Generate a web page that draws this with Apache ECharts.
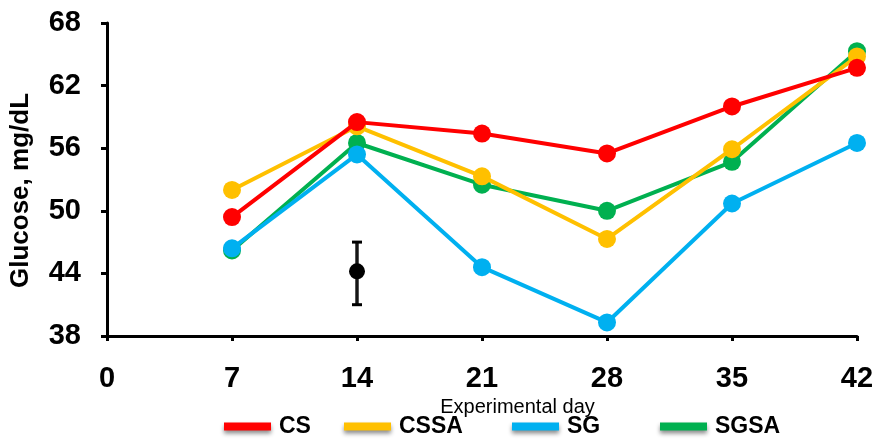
<!DOCTYPE html>
<html>
<head>
<meta charset="utf-8">
<script src="https://cdn.jsdelivr.net/npm/echarts@6/dist/echarts.min.js"></script>
<style>
  html, body { margin: 0; padding: 0; background: #fff; }
  #chart { width: 877px; height: 443px; }
</style>
</head>
<body>
<div id="chart"></div>
<script>
// Experimental days (x axis)
const days = [7, 14, 21, 28, 35, 42];
const xTicks = [0, 7, 14, 21, 28, 35, 42];
const yTicks = [38, 44, 50, 56, 62, 68];

// Blood glucose, mg/dL, per treatment group
const seriesNames = ['CS', 'CSSA', 'SG', 'SGSA'];
const csValues   = [49.4, 58.5, 57.4, 55.5, 60.0, 63.7];
const cssaValues = [52.0, 58.1, 53.3, 47.3, 55.9, 64.8];
const sgValues   = [46.4, 55.4, 44.6, 39.3, 50.7, 56.5];
const sgsaValues = [46.2, 56.5, 52.5, 50.0, 54.7, 65.3];
const seriesColors = ['#FF0000', '#FFC000', '#00B0F0', '#00B050'];

// Pooled SEM shown as a single error bar at day 14
const semDay = 14;
const semMean = 44.2;
const semLow = 41.0;
const semHigh = 47.0;

const allValues = [csValues, cssaValues, sgValues, sgsaValues];
const drawOrder = [5, 4, 3, 2];

const chart = echarts.init(document.getElementById('chart'), null, { renderer: 'canvas' });

const lineSeries = seriesNames.map((name, i) => ({
  name: name,
  type: 'line',
  data: days.map((d, j) => [d, allValues[i][j]]),
  symbol: 'circle',
  symbolSize: 18,
  z: drawOrder[i],
  lineStyle: { color: seriesColors[i], width: 4 },
  itemStyle: { color: seriesColors[i] },
  emphasis: { disabled: true },
  animation: false
}));

const errorSeries = {
  name: 'SEM',
  type: 'custom',
  z: 6,
  animation: false,
  data: [[semDay, semMean, semLow, semHigh]],
  renderItem: function (params, api) {
    const x = api.value(0);
    const c = api.coord([x, api.value(1)]);
    const lo = api.coord([x, api.value(2)]);
    const hi = api.coord([x, api.value(3)]);
    const cap = 5;
    return {
      type: 'group',
      children: [
        { type: 'line', shape: { x1: c[0], y1: lo[1], x2: c[0], y2: hi[1] },
          style: { stroke: '#555', lineWidth: 4 } },
        { type: 'line', shape: { x1: c[0], y1: lo[1], x2: c[0], y2: hi[1] },
          style: { stroke: '#000', lineWidth: 1.5 } },
        { type: 'line', shape: { x1: c[0] - cap, y1: hi[1], x2: c[0] + cap, y2: hi[1] },
          style: { stroke: '#000', lineWidth: 3 } },
        { type: 'line', shape: { x1: c[0] - cap, y1: lo[1], x2: c[0] + cap, y2: lo[1] },
          style: { stroke: '#000', lineWidth: 3 } },
        { type: 'circle', shape: { cx: c[0], cy: c[1], r: 8 },
          style: { fill: '#000' } }
      ]
    };
  }
};

const legendLefts = [219, 339, 507, 655];
const legends = seriesNames.map((name, i) => ({
  data: [name],
  left: legendLefts[i],
  top: 410,
  icon: 'rect',
  itemWidth: 47,
  itemHeight: 8,
  itemGap: 0,
  selectedMode: false,
  itemStyle: { shadowBlur: 4, shadowColor: 'rgba(0,0,0,0.45)', shadowOffsetY: 3 },
  textStyle: {
    fontFamily: '"Liberation Sans", Arial, sans-serif',
    fontWeight: 'bold',
    fontSize: 23,
    color: '#000',
    padding: [9, 0, 0, 3]
  }
}));

chart.setOption({
  backgroundColor: '#fff',
  animation: false,
  grid: { left: 105, right: 20, top: 23, bottom: 107, containLabel: false },
  legend: legends,
  xAxis: {
    type: 'value',
    min: xTicks[0],
    max: xTicks[xTicks.length - 1],
    interval: 7,
    name: 'Experimental day',
    nameLocation: 'middle',
    nameGap: 60,
    nameTextStyle: {
      fontFamily: '"Liberation Sans", Arial, sans-serif',
      fontSize: 20,
      color: '#000',
      padding: [0, 0, 0, 71]
    },
    axisLine: { lineStyle: { color: '#000', width: 3 } },
    axisTick: { show: true, length: 5, lineStyle: { color: '#000', width: 3 } },
    axisLabel: {
      margin: 28,
      fontFamily: '"Liberation Sans", Arial, sans-serif',
      fontWeight: 'bold',
      fontSize: 29,
      color: '#000'
    },
    splitLine: { show: false }
  },
  yAxis: {
    type: 'value',
    min: yTicks[0],
    max: yTicks[yTicks.length - 1],
    interval: 6,
    name: 'Glucose, mg/dL',
    nameLocation: 'middle',
    nameGap: 73,
    nameTextStyle: {
      fontFamily: '"Liberation Sans", Arial, sans-serif',
      fontWeight: 'bold',
      fontSize: 26,
      color: '#000',
      padding: [0, 22, 0, 0]
    },
    axisLine: { show: true, lineStyle: { color: '#000', width: 3 } },
    axisTick: { show: true, length: 6, lineStyle: { color: '#000', width: 3 } },
    axisLabel: {
      margin: 26,
      fontFamily: '"Liberation Sans", Arial, sans-serif',
      fontWeight: 'bold',
      fontSize: 29,
      color: '#000'
    },
    splitLine: { show: false }
  },
  series: lineSeries.concat([errorSeries])
});
</script>
</body>
</html>
